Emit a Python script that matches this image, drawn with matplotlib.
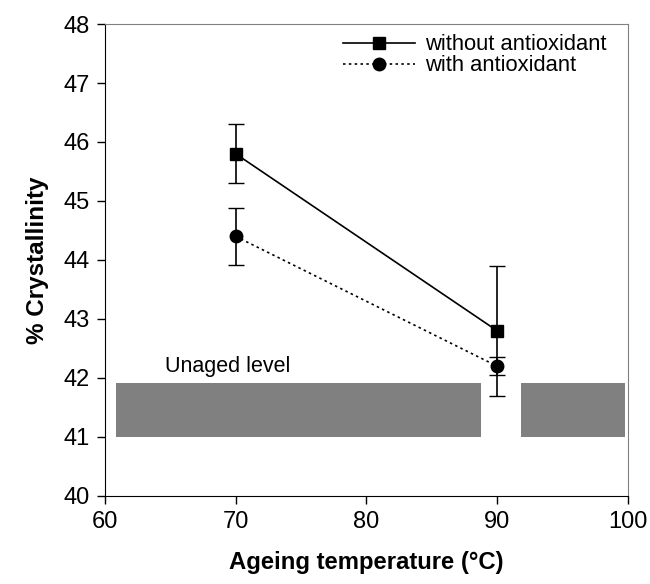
import matplotlib
matplotlib.use("Agg")
import matplotlib.pyplot as plt

plt.rcParams["font.family"] = ["Liberation Sans", "DejaVu Sans"]

# data
temps = [70, 90]
cryst_without = [45.8, 42.8]
err_without = [0.5, 1.1]
cryst_with = [44.4, 42.2]
err_with = [0.48, 0.15]

# unaged level band (broken around 90 °C)
band_x = [(60.85, 27.9), (91.8, 8.0)]
band_y = (41.0, 0.92)

fig = plt.figure(figsize=(6.5, 5.84), dpi=100)
ax = fig.add_axes([0.1615, 0.1507, 0.8045, 0.8082])

ax.broken_barh(band_x, band_y, facecolors="#808080", edgecolor="none", zorder=1)
ax.text(64.6, 42.2, "Unaged level", fontsize=15.5, va="center", ha="left")

ax.errorbar(temps, cryst_without, yerr=err_without, color="black", lw=1.2,
            marker="s", markersize=9, capsize=5.5, elinewidth=1.2,
            label="without antioxidant", zorder=3)
ax.errorbar(temps, cryst_with, yerr=err_with, color="black", lw=1.2,
            linestyle=(0, (1.5, 2)), marker="o", markersize=9, capsize=5.5,
            elinewidth=1.2, label="with antioxidant", zorder=3)

ax.set_xlim(60, 100)
ax.set_ylim(40, 48)
ax.set_xticks([60, 70, 80, 90, 100])
ax.set_yticks(range(40, 49))
ax.tick_params(direction="out", length=6, width=1, labelsize=17, pad=5)

for s in ["top", "right"]:
    ax.spines[s].set_color("#808080")
for s in ["left", "bottom"]:
    ax.spines[s].set_color("black")

ax.set_xlabel("Ageing temperature (°C)", fontsize=17.2, fontweight="bold", labelpad=13)
ax.set_ylabel("% Crystallinity", fontsize=17.5, fontweight="bold", labelpad=10)

h, l = ax.get_legend_handles_labels()
h = [x[0] for x in h]
ax.legend(h, l, loc="upper left", bbox_to_anchor=(0.455, 0.978), frameon=False,
          fontsize=15.8, handlelength=3.3, handletextpad=0.45, borderpad=0,
          borderaxespad=0, labelspacing=0.0)

fig.savefig("out.png", dpi=100)
